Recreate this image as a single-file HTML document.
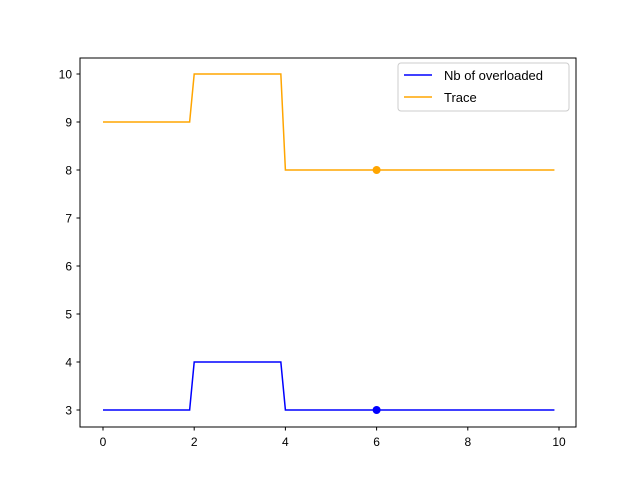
<!DOCTYPE html>
<html><head><meta charset="utf-8"><style>
body{margin:0;background:#fff}
svg{display:block;font-family:"Liberation Sans","DejaVu Sans",sans-serif}
</style></head><body>
<svg id="chart" width="640" height="480">
<rect x="0" y="0" width="640" height="480" fill="#fff"/>
<g id="plot"></g>
<rect x="80" y="58" width="496" height="369" fill="none" stroke="#000" stroke-width="1"/>
<g>
<rect x="398" y="63" width="171" height="48" rx="3" fill="#fff" fill-opacity="0.8" stroke="#ccc"/>
<line x1="404" y1="75" x2="432" y2="75" stroke="blue" stroke-width="1.5"/>
<text x="444" y="80" font-size="13">Nb of overloaded</text>
<line x1="404" y1="97" x2="432" y2="97" stroke="orange" stroke-width="1.5"/>
<text x="444" y="102" font-size="13">Trace</text>
</g>
</svg>
<script>
const xs = [0, 1.9, 2.0, 3.9, 4.0, 9.9];
const nbValues = [3, 3, 4, 4, 3, 3];
const traceValues = [9, 9, 10, 10, 8, 8];
const markerX = [6];
const markerNb = [3];
const markerTrace = [8];
const xTicks = [0, 2, 4, 6, 8, 10];
const yTicks = [3, 4, 5, 6, 7, 8, 9, 10];

const X = v => 103 + v * 45.6;
const Y = v => 410 - (v - 3) * 48;
const ns = "http://www.w3.org/2000/svg";
const g = document.getElementById('plot');
function mk(tag, attrs){const e=document.createElementNS(ns,tag);for(const k in attrs)e.setAttribute(k,attrs[k]);g.appendChild(e);return e;}

xTicks.forEach(t=>{
  const l=mk('line',{x1:X(t),x2:X(t),y1:427,y2:430.5,stroke:'#000'});
  
  
  const tx=mk('text',{x:X(t),y:446,'font-size':12,'text-anchor':'middle'});
  tx.textContent=t;
  
  
});
yTicks.forEach(t=>{
  const l=mk('line',{x1:76.5,x2:80,y1:Y(t),y2:Y(t),stroke:'#000'});
  
  
  const tx=mk('text',{x:72,y:Y(t)+4.5,'font-size':12,'text-anchor':'end'});
  tx.textContent=t;
  
  
});
function line(vals,color,name){
  const p=mk('polyline',{points:xs.map((x,i)=>X(x)+','+Y(vals[i])).join(' '),fill:'none',stroke:color,'stroke-width':1.5});
  
  
}
line(nbValues,'blue','nb-overloaded-line');
line(traceValues,'orange','trace-line');
markerX.forEach((x,i)=>{
  const a=mk('circle',{cx:X(x),cy:Y(markerNb[i]),r:4,fill:'blue'});
  
  
  const b=mk('circle',{cx:X(x),cy:Y(markerTrace[i]),r:4,fill:'orange'});
  
  
});
</script>
</body></html>
